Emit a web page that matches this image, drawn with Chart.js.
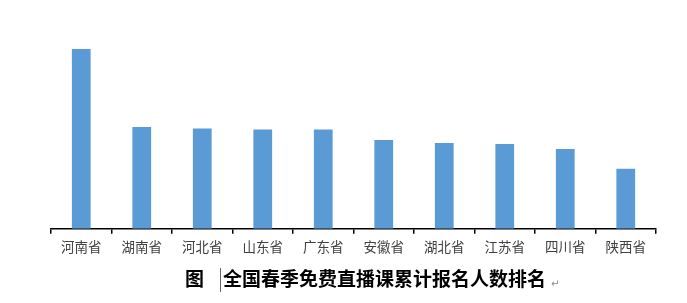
<!DOCTYPE html>
<html>
<head>
<meta charset="utf-8">
<script src="https://cdn.jsdelivr.net/npm/chart.js@4"></script>
<style>
  html, body { margin: 0; padding: 0; background: #fff; }
  #wrap { width: 687px; height: 303px; }
</style>
</head>
<body>
<div id="wrap"><canvas id="rankChart" width="687" height="303"></canvas></div>
<script>
const provinces = ["河南省", "湖南省", "河北省", "山东省", "广东省", "安徽省", "湖北省", "江苏省", "四川省", "陕西省"];
const signups = [180, 102, 100.5, 99.5, 99.5, 89, 86, 85, 80, 60];
const figLabel = "图";
const figTitle = "全国春季免费直播课累计报名人数排名";

const captionPlugin = {
  id: "caption",
  afterDraw(chart) {
    const ctx = chart.ctx;
    ctx.save();
    ctx.fillStyle = "#000";
    ctx.textBaseline = "middle";
    ctx.font = "bold 19px 'Noto Sans CJK SC'";
    ctx.textAlign = "left";
    ctx.fillText(figLabel, 185, 279);
    // caret mark
    ctx.strokeStyle = "#666";
    ctx.lineWidth = 1;
    ctx.beginPath();
    ctx.moveTo(220.5, 268);
    ctx.lineTo(220.5, 292);
    ctx.stroke();
    ctx.fillText(figTitle, 223, 279);
    ctx.font = "10px 'DejaVu Sans'";
    ctx.fillStyle = "#888";
    ctx.fillText("↵", 551, 284);
    ctx.restore();
  }
};

new Chart(document.getElementById("rankChart"), {
  type: "bar",
  data: {
    labels: provinces,
    datasets: [{
      data: signups,
      backgroundColor: "#5b9bd5",
      borderWidth: 0,
      barPercentage: 0.31,
      categoryPercentage: 1
    }]
  },
  options: {
    responsive: false,
    animation: false,
    layout: { padding: { left: 51, right: 31, top: 29, bottom: 43 } },
    plugins: {
      legend: { display: false },
      tooltip: { enabled: false }
    },
    scales: {
      x: {
        offset: true,
        border: { display: true, color: "#000", width: 1.5 },
        grid: {
          offset: true,
          drawOnChartArea: false,
          drawTicks: true,
          tickLength: 5,
          color: "#000",
          lineWidth: 1.5
        },
        ticks: {
          color: "#404040",
          padding: 5,
          font: { size: 13.5, family: "'Noto Sans CJK SC'" }
        }
      },
      y: {
        display: false,
        min: 0,
        max: 200
      }
    }
  },
  plugins: [captionPlugin]
});
</script>
</body>
</html>
